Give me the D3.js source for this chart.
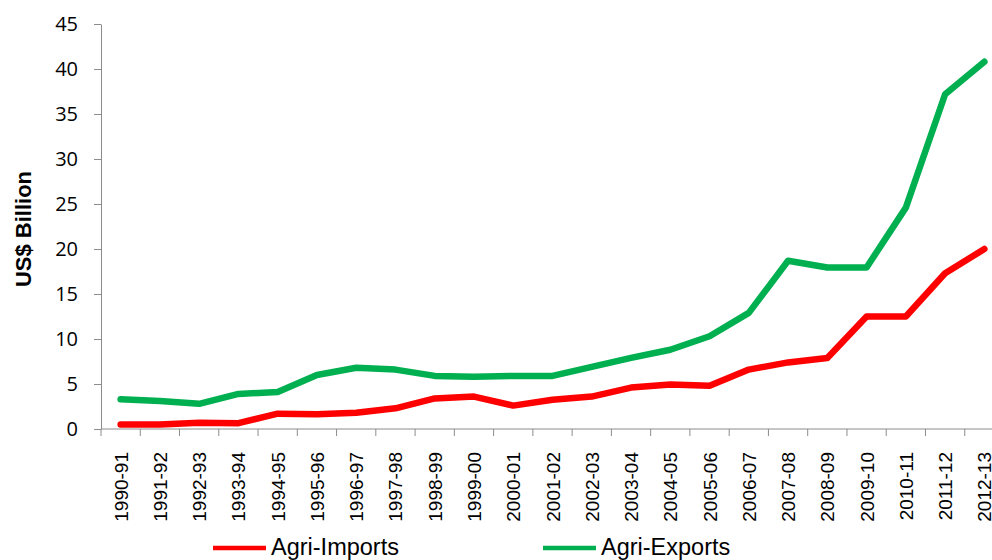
<!DOCTYPE html>
<html>
<head>
<meta charset="utf-8">
<script src="https://cdn.jsdelivr.net/npm/d3@7/dist/d3.min.js"></script>
<style>
  body { margin: 0; background: #fff; }
  .axis path, .axis line { stroke: #8c8c8c; }
  .ylab text { font-family: "Open Sans", sans-serif; font-size: 20px; fill: #000; }
  .xlab text { font-family: "Liberation Sans", Arial, sans-serif; font-size: 19px; fill: #000; }
</style>
</head>
<body>
<div id="chart"></div>
<script>
// data
const years = ["1990-91", "1991-92", "1992-93", "1993-94", "1994-95", "1995-96", "1996-97",
  "1997-98", "1998-99", "1999-00", "2000-01", "2001-02", "2002-03", "2003-04", "2004-05",
  "2005-06", "2006-07", "2007-08", "2008-09", "2009-10", "2010-11", "2011-12", "2012-13"]
const agriImports = [0.5, 0.5, 0.7, 0.65, 1.7, 1.65, 1.8, 2.3, 3.4, 3.6, 2.6, 3.25, 3.6, 4.6,
  4.95, 4.8, 6.6, 7.4, 7.9, 12.5, 12.5, 17.3, 20.0]
const agriExports = [3.3, 3.1, 2.8, 3.9, 4.1, 6.0, 6.8, 6.6, 5.9, 5.8, 5.9, 5.9, 6.9, 7.9,
  8.8, 10.3, 12.9, 18.7, 17.95, 17.95, 24.6, 37.2, 40.8]
const yTicks = [0, 5, 10, 15, 20, 25, 30, 35, 40, 45]
const seriesNames = ["Agri-Imports", "Agri-Exports"]
const seriesColors = ["#ff0000", "#00b050"]

const width = 992, height = 560
const margin = { top: 24, left: 101, bottom: 131 }
const plotW = 903   // runs past the right edge, as in the picture
const plotH = height - margin.top - margin.bottom

const svg = d3.select("#chart").append("svg")
  .attr("width", width)
  .attr("height", height)

const g = svg.append("g")
  .attr("transform", "translate(" + margin.left + "," + margin.top + ")")

const x = d3.scaleBand().domain(years).range([0, plotW])
const y = d3.scaleLinear().domain([0, 45]).range([plotH, 0])

// y axis
g.append("g")
  .attr("class", "axis ylab")
  .call(d3.axisLeft(y).tickValues(yTicks).tickSize(7).tickPadding(16).tickSizeOuter(0))

// x axis with ticks at category boundaries
const xAxis = g.append("g")
  .attr("class", "axis")
  .attr("transform", "translate(0," + plotH + ")")
xAxis.append("line")
  .attr("x1", 0).attr("x2", plotW)
  .attr("stroke", "#8c8c8c")
xAxis.selectAll(".tk")
  .data(years)
  .join("line")
  .attr("class", "tk")
  .attr("x1", d => x(d)).attr("x2", d => x(d))
  .attr("y1", 0).attr("y2", 7)
  .attr("stroke", "#8c8c8c")

const xl = g.append("g")
  .attr("class", "xlab")
  .attr("transform", "translate(0," + plotH + ")")
xl.selectAll("text")
  .data(years)
  .join("text")
  .attr("transform", d => "translate(" + (x(d) + x.bandwidth() / 2 + 7) + ",23) rotate(-90)")
  .attr("text-anchor", "end")
  .text(d => d)

// lines
const line = d3.line()
  .x((d, i) => x(years[i]) + x.bandwidth() / 2)
  .y(d => y(d))

const series = [agriImports, agriExports]
series.forEach((s, i) => {
  g.append("path")
    .datum(s)
    .attr("fill", "none")
    .attr("stroke", seriesColors[i])
    .attr("stroke-width", 6.5)
    .attr("stroke-linejoin", "round")
    .attr("stroke-linecap", "round")
    .attr("d", line)
})

// y title
svg.append("text")
  .attr("transform", "translate(31,229) rotate(-90)")
  .attr("text-anchor", "middle")
  .style("font-family", "Liberation Sans, Arial, sans-serif")
  .style("font-weight", "bold")
  .style("font-size", "22px")
  .text("US$ Billion")

// legend
const legendX = [213, 543]
seriesNames.forEach((name, i) => {
  const lg = svg.append("g").attr("transform", "translate(" + legendX[i] + ",548)")
  lg.append("line")
    .attr("x1", 0).attr("x2", 53)
    .attr("stroke", seriesColors[i])
    .attr("stroke-width", 4.5)
  lg.append("text")
    .attr("x", 58).attr("y", 7)
    .style("font-family", "Liberation Sans, Arial, sans-serif")
    .style("font-size", "23.5px")
    .text(name)
})
</script>
</body>
</html>
